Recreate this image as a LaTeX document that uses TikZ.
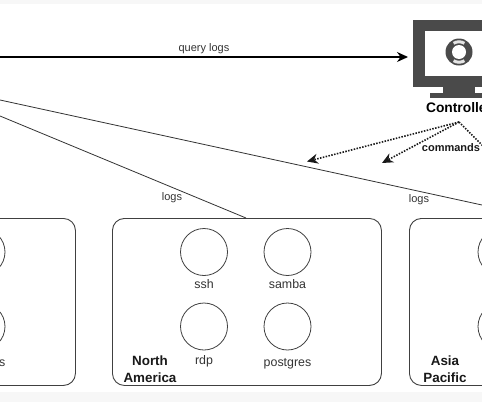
\documentclass[tikz,border=0pt]{standalone}
\usepackage{fontspec}
\setmainfont{Liberation Sans}
\usetikzlibrary{arrows.meta}
\definecolor{dk}{HTML}{4A4A4A}
\tikzset{
  x=1pt,y=-1pt,
  region/.style={draw=black!75,line width=0.9pt,rounded corners=12pt,fill=white,inner sep=0pt,minimum height=167pt,anchor=north west},
  svc/.style={circle,draw=black!75,line width=0.8pt,minimum size=47pt,inner sep=0pt},
  svclabel/.style={font=\fontsize{12.4}{14}\selectfont,text=black!80,inner sep=0pt},
  edgelabel/.style={font=\fontsize{11}{13}\selectfont,text=black!80,inner sep=0pt},
  boldlabel/.style={font=\bfseries\fontsize{13.4}{17}\selectfont,align=center,inner sep=0pt,text=black!90},
  logline/.style={draw=black!80,line width=0.8pt},
  cmd/.style={draw=black!90,line width=1.6pt,dash pattern=on 1.5pt off 1.4pt},
  tip/.style={-{Stealth[length=11pt,width=10pt]}},
  buoy/.style={draw=white!85!dk,line width=3pt},
}
\begin{document}
\begin{tikzpicture}
\useasboundingbox (0,0) rectangle (482,402);
\clip (0,0) rectangle (482,402);
\fill[white] (0,0) rectangle (482,402);
\fill[black!3] (0,0) rectangle (482,4);
\fill[black!3] (0,392) rectangle (482,402);
% regions
\node[region,minimum width=200pt] (eu) at (-125,218) {};
\node[region,minimum width=269pt] (na) at (112,218) {};
\node[region,minimum width=269pt] (ap) at (409,218) {};
% services
\node[svc] (s1) at (-18.5,252) {};
\node[svc] (s2) at (-18.5,326.5) {};
\node[svclabel] (l1) at (-18.5,284.5) {samba};
\node[svclabel] (l2) at (-18.5,363.5) {postgres};
\node[svc] (s3) at (204,252) {};
\node[svc] (s4) at (287.5,252) {};
\node[svc] (s5) at (204,326.5) {};
\node[svc] (s6) at (287.5,326.5) {};
\node[svclabel] (l3) at (204,284) {ssh};
\node[svclabel] (l4) at (287.5,284.5) {samba};
\node[svclabel] (l5) at (204,361) {rdp};
\node[svclabel] (l6) at (287.5,363.5) {postgres};
\node[svc] (s7) at (501.5,252) {};
\node[svc] (s8) at (501.5,326.5) {};
\node[boldlabel] (naname) at (150,369) {North\\America};
\node[boldlabel] (apname) at (445,369) {Asia\\Pacific};
% monitor
\fill[dk] (413,20) rectangle (505,87);
\fill[white] (425,31) rectangle (493,76);
\fill[dk] (443,87) rectangle (475,94);
\fill[dk] (430,93) rectangle (488,97.5);
\fill[dk] (459,52) circle (13.5pt);
\draw[buoy] (464.43,43.31) arc[start angle=58,end angle=122,radius=10.25pt];
\draw[buoy] (453.57,60.69) arc[start angle=238,end angle=302,radius=10.25pt];
\fill[white] (459,52) circle (7pt);
\node[font=\bfseries\fontsize{13.8}{16}\selectfont,inner sep=0pt,text=black] (ctrl) at (459,108) {Controller};
% connectors
\coordinate (qs) at (0,57);
\coordinate (qe) at (408,57);
\coordinate (a0) at (0,100);
\coordinate (a1) at (482,205);
\coordinate (b0) at (0,116);
\coordinate (b1) at (246,218);
\coordinate (apex) at (459,122);
\coordinate (t1) at (307,161.5);
\coordinate (t2) at (382,163);
\coordinate (t3) at (501,164);
\draw[line width=1.4pt,black,tip] (qs) -- (qe);
\draw[logline] (a0) -- (a1);
\draw[logline] (b0) -- (b1);
\draw[cmd,tip] (apex) -- (t1);
\draw[cmd,tip] (apex) -- (t2);
\draw[cmd] (apex) -- (t3);
\node[edgelabel] (ql) at (204,48.5) {query logs};
\node[edgelabel] (ll1) at (172,197.5) {logs};
\node[edgelabel] (ll2) at (419,199.5) {logs};
\node[font=\bfseries\fontsize{11}{13}\selectfont,inner sep=0pt,text=black!90] (cl) at (451,147.5) {commands};
\end{tikzpicture}
\end{document}
